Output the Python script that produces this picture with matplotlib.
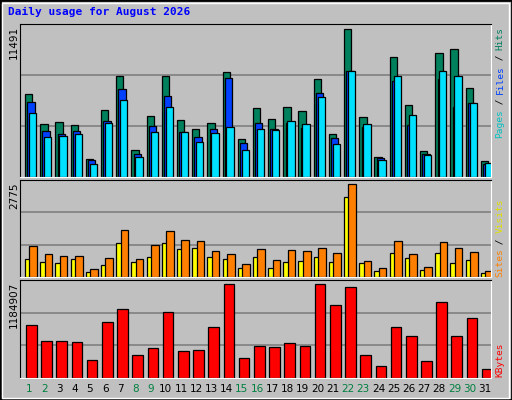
import numpy as np
import matplotlib
matplotlib.use("Agg")
import matplotlib.pyplot as plt
from matplotlib.patches import Rectangle

days = list(range(1, 32))
weekend = [1, 2, 8, 9, 15, 16, 22, 23, 29, 30]

hits = [6500, 4160, 4316, 4082, 1430, 5252, 7904, 2132, 4784, 7904, 4472, 3770, 4238, 8216, 2990, 5408,
        4550, 5486, 5174, 7670, 3380, 11491, 4706, 1586, 9308, 5642, 2054, 9620, 9932, 6968, 1274]
files = [5876, 3614, 3380, 3614, 1352, 4394, 6890, 1820, 4004, 6344, 3536, 3146, 3770, 7748, 2678, 4238,
         3770, 4238, 3848, 6578, 3068, 8294, 3926, 1508, 7514, 4082, 1820, 7670, 5486, 5798, 1040]
pages = [5018, 3146, 3224, 3380, 1040, 4238, 6032, 1586, 3536, 5486, 3536, 2756, 3458, 3926, 2132, 3770,
         3692, 4394, 4160, 6266, 2600, 8294, 4160, 1352, 7904, 4862, 1742, 8294, 7904, 5798, 1118]
sites = [543, 452, 422, 543, 151, 362, 1025, 452, 603, 1025, 844, 874, 603, 543, 271, 603,
         271, 452, 482, 603, 452, 2382, 422, 181, 724, 573, 211, 724, 422, 513, 121]
visits = [935, 693, 633, 633, 241, 573, 1417, 543, 965, 1387, 1116, 1085, 784, 693, 392, 844,
          513, 814, 784, 874, 724, 2775, 482, 271, 1085, 693, 302, 1055, 874, 754, 181]
kbytes = [665900, 471300, 471300, 458300, 224800, 704800, 873400, 289700, 380500, 834500, 341600, 354600,
          639900, 1184907, 250800, 406500, 393500, 445400, 406500, 1184907, 925300, 1145800, 289700,
          147000, 639900, 536200, 211900, 964200, 536200, 756700, 108100]

BG = "#C0C0C0"
W, H = 512, 400
fig = plt.figure(figsize=(W / 100, H / 100), dpi=100, facecolor=BG)

# outer bevel
fig.patches.append(Rectangle((0, 0), 1, 1, transform=fig.transFigure, fill=False, ec="#000000", lw=2))
fig.patches.append(Rectangle((2 / W, 2 / H), 1 - 5 / W, 1 - 5 / H, transform=fig.transFigure,
                             fill=False, ec="#FFFFFF", lw=1))

x0, x1 = 20, 491


def panel(top, bottom):
    ax = fig.add_axes([x0 / W, 1 - bottom / H, (x1 - x0) / W, (bottom - top) / H])
    ax.set_facecolor(BG)
    ax.set_xlim(0, 31)
    ax.set_xticks([])
    ax.set_yticks([])
    for s in ["top", "left"]:
        ax.spines[s].set_color("black")
    for s in ["bottom", "right"]:
        ax.spines[s].set_color("white")
    return ax


def grid(ax, ymax):
    for f in (1 / 3, 2 / 3):
        ax.axhline(ymax * f, color="#808080", lw=1.2, zorder=0)


idx = np.arange(31)
EC = dict(edgecolor="black", linewidth=0.9, align="edge")

# top panel
ax = panel(24, 177)
ymax = max(hits) * 1.037
ax.set_ylim(0, ymax)
grid(ax, ymax)
ax.bar(idx + 0.33, hits, 0.48, color="#00805C", **EC)
ax.bar(idx + 0.48, files, 0.48, color="#0040FF", **EC)
ax.bar(idx + 0.59, pages, 0.48, color="#00E0FF", **EC)

# middle panel
ax = panel(180, 277)
ymax = max(visits) * 1.043
ax.set_ylim(0, ymax)
grid(ax, ymax)
ax.bar(idx + 0.33, sites, 0.5, color="#FFFF00", **EC)
ax.bar(idx + 0.62, visits, 0.5, color="#FF8000", **EC)

# bottom panel
ax = panel(280, 378)
ymax = max(kbytes) * 1.044
ax.set_ylim(0, ymax)
grid(ax, ymax)
ax.bar(idx + 0.4, kbytes, 0.7, color="#FF0000", **EC)

# day labels
slot = (x1 - x0) / 31
for i, d in enumerate(days):
    fig.text((x0 + (i + 0.6) * slot) / W, 1 - 389 / H, str(d), ha="center", va="center",
             fontsize=7.5, color="#008040" if d in weekend else "#000000")

# title
fig.text(8 / W, 1 - 12 / H, "Daily usage for August 2026", fontsize=8, fontweight="bold",
         family="DejaVu Sans Mono", color="#0000FF", va="center")

# left max labels
for y, t in [(26, str(max(hits))), (182, str(max(visits))), (282, str(max(kbytes)))]:
    fig.text(14 / W, 1 - y / H, t, rotation=90, ha="center", va="top", fontsize=7.5)


# right side legends, stacked bottom-to-top
def vlabel(y_bottom, parts, cw=5.5):
    y = y_bottom
    for txt, col in parts:
        fig.text(500 / W, 1 - y / H, txt, rotation=90, ha="center", va="bottom", fontsize=6.8,
                 family="DejaVu Sans Mono", color=col)
        y -= cw * len(txt)


vlabel(138, [("Pages", "#00C0C0"), (" / ", "#000000"), ("Files", "#0040FF"),
             (" / ", "#000000"), ("Hits", "#008060")])
vlabel(277, [("Sites", "#FF8000"), (" / ", "#000000"), ("Visits", "#E0E000")])
vlabel(377, [("KBytes", "#FF0000")])

fig.savefig("out.png", dpi=100, facecolor=BG)
